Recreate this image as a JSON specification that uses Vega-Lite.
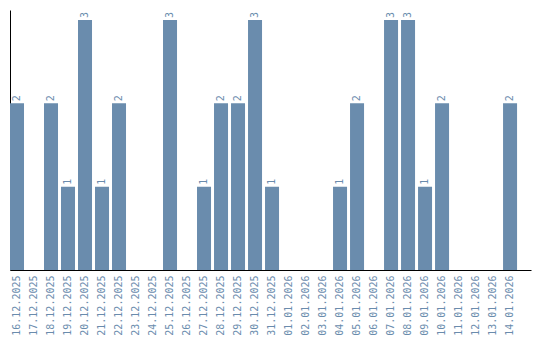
{
  "$schema": "https://vega.github.io/schema/vega-lite/v6.json",
  "autosize": "none",
  "padding": {"left": 10, "top": 10, "right": 9, "bottom": 70},
  "width": 521,
  "height": 260,
  "config": {"view": {"stroke": null}, "font": "DejaVu Sans Mono"},
  "data": {"values": [
    {"date": "16.12.2025", "count": 2},
    {"date": "17.12.2025", "count": 0},
    {"date": "18.12.2025", "count": 2},
    {"date": "19.12.2025", "count": 1},
    {"date": "20.12.2025", "count": 3},
    {"date": "21.12.2025", "count": 1},
    {"date": "22.12.2025", "count": 2},
    {"date": "23.12.2025", "count": 0},
    {"date": "24.12.2025", "count": 0},
    {"date": "25.12.2025", "count": 3},
    {"date": "26.12.2025", "count": 0},
    {"date": "27.12.2025", "count": 1},
    {"date": "28.12.2025", "count": 2},
    {"date": "29.12.2025", "count": 2},
    {"date": "30.12.2025", "count": 3},
    {"date": "31.12.2025", "count": 1},
    {"date": "01.01.2026", "count": 0},
    {"date": "02.01.2026", "count": 0},
    {"date": "03.01.2026", "count": 0},
    {"date": "04.01.2026", "count": 1},
    {"date": "05.01.2026", "count": 2},
    {"date": "06.01.2026", "count": 0},
    {"date": "07.01.2026", "count": 3},
    {"date": "08.01.2026", "count": 3},
    {"date": "09.01.2026", "count": 1},
    {"date": "10.01.2026", "count": 2},
    {"date": "11.01.2026", "count": 0},
    {"date": "12.01.2026", "count": 0},
    {"date": "13.01.2026", "count": 0},
    {"date": "14.01.2026", "count": 2}
  ]},
  "encoding": {
    "x": {
      "field": "date", "type": "nominal", "sort": null,
      "scale": {"paddingInner": 0.176, "paddingOuter": 0.41, "align": 0},
      "axis": {
        "title": null, "ticks": false, "labelAngle": -90, "labelPadding": 5,
        "labelFont": "DejaVu Sans Mono", "labelFontSize": 10, "labelColor": "#6a8cad",
        "domainColor": "#000000", "domainWidth": 1, "grid": false
      }
    },
    "y": {
      "field": "count", "type": "quantitative",
      "scale": {"domain": [0, 3.12], "nice": false},
      "axis": {"title": null, "ticks": false, "labels": false, "grid": false, "domainColor": "#000000", "domainWidth": 1}
    }
  },
  "layer": [
    {"mark": {"type": "bar", "color": "#6a8cad"}},
    {
      "transform": [{"filter": "datum.count > 0"}],
      "mark": {"type": "text", "angle": -90, "align": "left", "baseline": "middle", "dx": 2, "font": "DejaVu Sans Mono", "fontSize": 10, "color": "#6a8cad"},
      "encoding": {"text": {"field": "count", "type": "quantitative"}}
    }
  ]
}
